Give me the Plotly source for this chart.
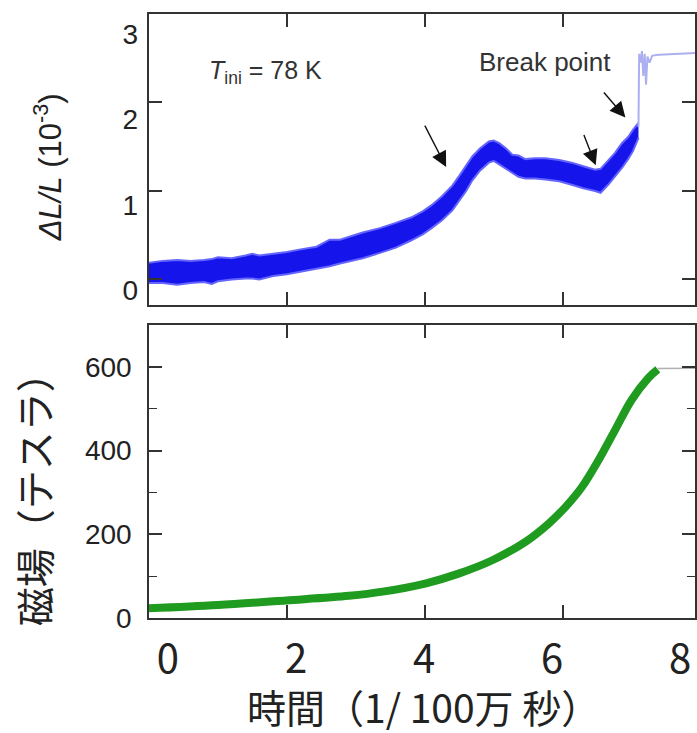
import plotly.graph_objects as go

# ---- data ----
t_band = [0.00, 0.20, 0.41, 0.60, 0.80, 0.91, 1.00, 1.20, 1.40, 1.50, 1.60, 1.80, 2.00, 2.20, 2.43,
          2.62, 2.77, 3.10, 3.35, 3.58, 3.80, 3.97, 4.10, 4.25, 4.40, 4.50, 4.60, 4.69, 4.80, 4.93,
          5.00, 5.08, 5.18, 5.27, 5.36, 5.46, 5.60, 5.75, 5.95, 6.13, 6.30, 6.47, 6.55, 6.66, 6.76,
          6.86, 6.95, 7.02, 7.10]
dl_upper = [0.19, 0.21, 0.22, 0.21, 0.22, 0.23, 0.25, 0.24, 0.27, 0.29, 0.27, 0.29, 0.31, 0.34, 0.37,
            0.45, 0.45, 0.53, 0.58, 0.64, 0.70, 0.77, 0.84, 0.94, 1.06, 1.17, 1.28, 1.39, 1.48, 1.56,
            1.57, 1.54, 1.48, 1.41, 1.40, 1.36, 1.37, 1.37, 1.35, 1.32, 1.28, 1.24, 1.25, 1.35, 1.43,
            1.54, 1.61, 1.69, 1.77]
dl_lower = [-0.04, -0.04, -0.06, -0.04, -0.03, -0.05, -0.02, 0.00, 0.01, 0.01, 0.00, 0.04, 0.06, 0.09, 0.12,
            0.15, 0.18, 0.24, 0.30, 0.36, 0.44, 0.51, 0.58, 0.67, 0.78, 0.89, 1.00, 1.12, 1.23, 1.32,
            1.34, 1.30, 1.25, 1.20, 1.16, 1.14, 1.14, 1.13, 1.11, 1.07, 1.03, 1.00, 0.98, 1.07, 1.16,
            1.26, 1.36, 1.45, 1.60]

t_break = [7.10, 7.11, 7.13, 7.15, 7.17, 7.19, 7.21, 7.23, 7.26, 7.30, 7.40, 7.60, 7.80, 7.92]
dl_break = [1.72, 2.55, 2.45, 2.58, 2.30, 2.55, 2.20, 2.52, 2.45, 2.53, 2.54, 2.55, 2.56, 2.56]

t_field = [0.00, 1.00, 1.99, 2.90, 3.39, 4.02, 4.49, 4.98, 5.46, 5.80, 6.04, 6.28, 6.52, 6.76, 7.00, 7.24, 7.38]
field = [23, 31, 42, 53, 63, 83, 106, 138, 182, 226, 265, 313, 377, 449, 521, 573, 594]
t_field_after = [7.38, 7.92]
field_after = [596, 597]

x_ticks = [0, 2, 4, 6, 8]
dl_ticks = [0, 1, 2, 3]
b_ticks = [0, 200, 400, 600]
b_minor = [100, 300, 500]

LINE = '#333333'
SANS = 'Liberation Sans, Arial, sans-serif'
CJK = 'Noto Sans CJK JP, sans-serif'

fig = go.Figure()

fig.add_trace(go.Scatter(x=t_band, y=dl_lower, mode='lines', line=dict(color='rgb(100,100,255)', width=2),
                         xaxis='x', yaxis='y', showlegend=False, hoverinfo='skip'))
fig.add_trace(go.Scatter(x=t_band, y=dl_upper, mode='lines', line=dict(color='rgb(100,100,255)', width=2),
                         fill='tonexty', fillcolor='rgb(20,20,235)',
                         xaxis='x', yaxis='y', showlegend=False, hoverinfo='skip'))
fig.add_trace(go.Scatter(x=t_break, y=dl_break, mode='lines', line=dict(color='rgb(172,176,240)', width=2),
                         xaxis='x', yaxis='y', showlegend=False, hoverinfo='skip'))
# carrier for the tick-label axis of the upper panel
fig.add_trace(go.Scatter(x=[None], y=[None], xaxis='x', yaxis='y3', showlegend=False, hoverinfo='skip'))

fig.add_trace(go.Scatter(x=t_field_after, y=field_after, mode='lines', line=dict(color='#b0b0b0', width=1.5),
                         xaxis='x2', yaxis='y2', showlegend=False, hoverinfo='skip'))
fig.add_trace(go.Scatter(x=t_field, y=field, mode='lines', line=dict(color='#1f9b1f', width=8, shape='spline'),
                         xaxis='x2', yaxis='y2', showlegend=False, hoverinfo='skip'))
fig.add_trace(go.Scatter(x=[None], y=[None], xaxis='x3', yaxis='y2', showlegend=False, hoverinfo='skip'))

ax_common = dict(showline=True, linecolor=LINE, linewidth=1.5, mirror='ticks', ticks='inside',
                 ticklen=13, tickwidth=1.5, tickcolor=LINE, showgrid=False, zeroline=False)

fig.update_layout(
    width=697, height=733,
    margin=dict(l=149, r=0, t=14, b=115),
    paper_bgcolor='white', plot_bgcolor='white',
    xaxis=dict(domain=[0, 1], anchor='y', range=[0, 7.92], tickvals=x_ticks, showticklabels=False, **ax_common),
    yaxis=dict(domain=[0.518, 1], anchor='x', range=[-0.29, 3], tickvals=dl_ticks, showticklabels=False, **ax_common),
    yaxis3=dict(overlaying='y', anchor='x', side='left', range=[-0.176, 3.236], tickvals=dl_ticks,
                ticks='', showline=False, showgrid=False, zeroline=False, ticklabelstandoff=10,
                tickfont=dict(family=SANS, size=28, color='#222222')),
    xaxis2=dict(domain=[0, 1], anchor='y2', range=[0, 7.92], tickvals=x_ticks, showticklabels=False, **ax_common),
    yaxis2=dict(domain=[0, 0.485], anchor='x2', range=[0, 700], tickvals=b_ticks, ticklabelstandoff=10,
                tickfont=dict(family=SANS, size=28, color='#222222'),
                minor=dict(tickvals=b_minor, ticks='inside', ticklen=8, tickwidth=1.2, tickcolor=LINE),
                **ax_common),
    xaxis3=dict(overlaying='x2', anchor='y2', side='bottom', range=[-0.296, 8.233], tickvals=x_ticks,
                ticks='', showline=False, showgrid=False, zeroline=False, ticklabelstandoff=14,
                tickfont=dict(family=CJK, size=40, color='#222222')),
)

annotations = [
    dict(x=1.69, y=2.34, xref='x', yref='y', text='<i>T</i><sub>ini</sub> = 78 K', showarrow=False,
         font=dict(family=SANS, size=25, color='#333333')),
    dict(x=5.74, y=2.455, xref='x', yref='y', text='Break point', showarrow=False,
         font=dict(family=SANS, size=26, color='#333333')),
    dict(x=4.31, y=1.27, ax=3.99, ay=1.755, xref='x', yref='y', axref='x', ayref='y', text='',
         showarrow=True, arrowhead=2, arrowsize=2.2, arrowwidth=1.4, arrowcolor='#111111'),
    dict(x=6.48, y=1.29, ax=6.30, ay=1.65, xref='x', yref='y', axref='x', ayref='y', text='',
         showarrow=True, arrowhead=2, arrowsize=2.2, arrowwidth=1.4, arrowcolor='#111111'),
    dict(x=6.91, y=1.83, ax=6.58, ay=2.13, xref='x', yref='y', axref='x', ayref='y', text='',
         showarrow=True, arrowhead=2, arrowsize=2.2, arrowwidth=1.4, arrowcolor='#111111'),
    dict(x=-0.186, y=0.747, xref='paper', yref='paper', xanchor='center', yanchor='middle',
         text='<i>ΔL/L</i> (10<sup>-3</sup>)',
         textangle=-90, showarrow=False, font=dict(family=SANS, size=31, color='#222222')),
    dict(x=-0.2117, y=0.212, xref='paper', yref='paper', xanchor='center', yanchor='middle',
         text='磁場（テスラ）',
         textangle=-90, showarrow=False, font=dict(family=CJK, size=39, color='#222222')),
    dict(x=0.5036, y=-0.1457, xref='paper', yref='paper', xanchor='center', yanchor='middle',
         text='時間（1/ 100万 秒）',
         showarrow=False, font=dict(family=CJK, size=39, color='#222222')),
]
fig.update_layout(annotations=annotations)

fig.write_html('out.html')
